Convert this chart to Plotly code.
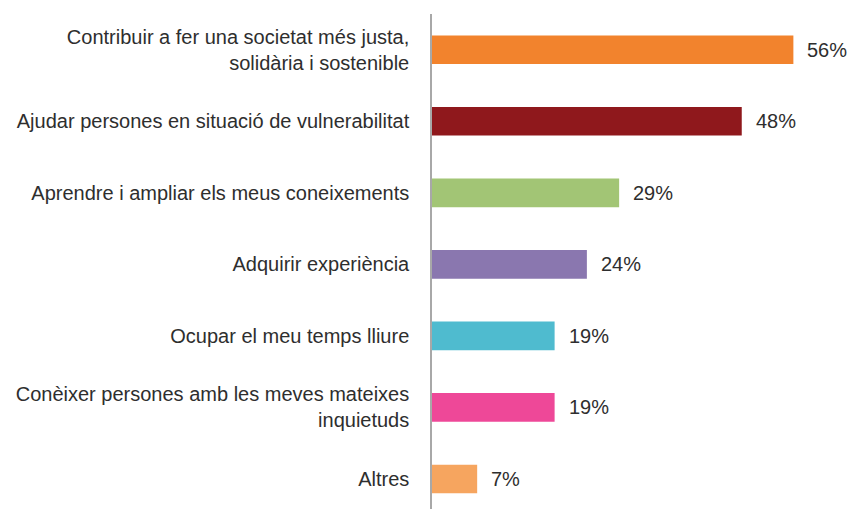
import plotly.graph_objects as go

categories = [
    "Contribuir a fer una societat més justa,<br>solidària i sostenible",
    "Ajudar persones en situació de vulnerabilitat",
    "Aprendre i ampliar els meus coneixements",
    "Adquirir experiència",
    "Ocupar el meu temps lliure",
    "Conèixer persones amb les meves mateixes<br>inquietuds",
    "Altres",
]
values = [56, 48, 29, 24, 19, 19, 7]
colors = ["#F2832D", "#8F181C", "#A2C575", "#8A77AF", "#4FBBCF", "#EE4898", "#F6A55F"]

FONT = "Liberation Sans, Arial, sans-serif"
TEXT_COLOR = "#2e2e2e"
SIZE = 20

fig = go.Figure(
    go.Bar(
        x=values,
        y=categories,
        orientation="h",
        marker=dict(color=colors, line=dict(width=0)),
        width=0.4,
        hoverinfo="skip",
    )
)

for cat, val in zip(categories, values):
    fig.add_annotation(
        x=val, y=cat, text=f"{val}%", showarrow=False,
        xanchor="left", yanchor="middle", xshift=12,
        font=dict(family=FONT, size=SIZE, color=TEXT_COLOR),
    )

fig.update_layout(
    width=850, height=509,
    margin=dict(l=432, r=5, t=14, b=0, pad=0),
    paper_bgcolor="white", plot_bgcolor="white",
    showlegend=False,
    font=dict(family=FONT, size=SIZE, color=TEXT_COLOR),
)
fig.update_xaxes(range=[0, 64], visible=False, fixedrange=True)
fig.update_yaxes(
    type="category",
    categoryorder="array", categoryarray=categories,
    range=[6.42, -0.5],
    showline=True, linecolor="#a8a8a8", linewidth=1.5,
    showgrid=False, zeroline=False, ticks="",
    ticklabelstandoff=17,
    tickfont=dict(family=FONT, size=SIZE, color=TEXT_COLOR),
)

fig.write_html("out.html")
